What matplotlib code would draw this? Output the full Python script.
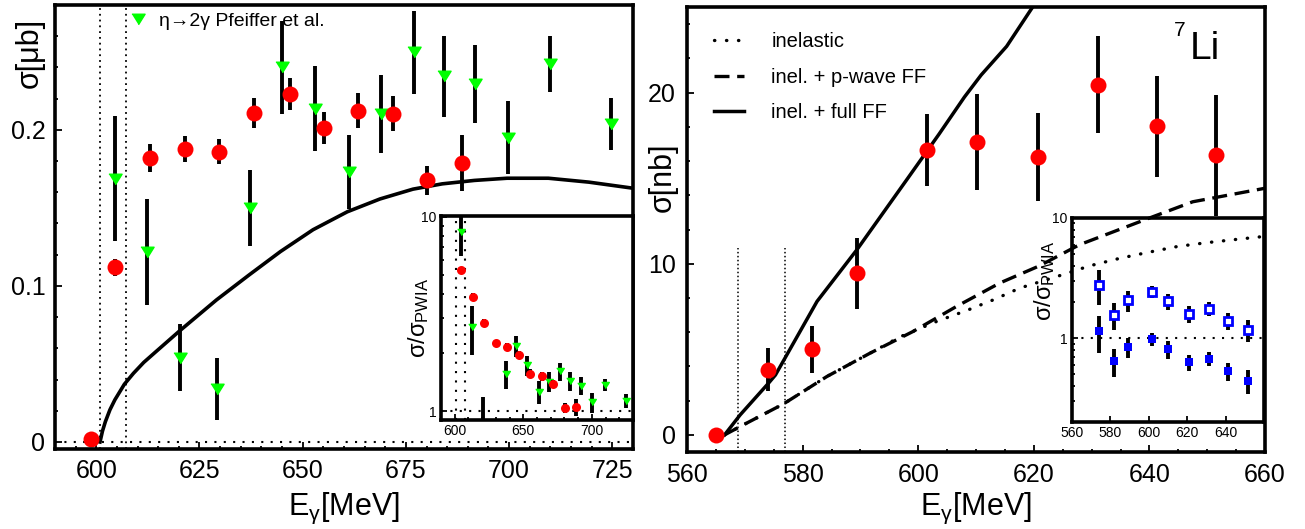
import numpy as np
import matplotlib
matplotlib.use("Agg")
import matplotlib.pyplot as plt
from matplotlib.lines import Line2D
from matplotlib.ticker import MultipleLocator, FixedLocator, NullFormatter, FixedFormatter

plt.rcParams['font.family'] = ['Liberation Sans', 'DejaVu Sans']
plt.rcParams['mathtext.fontset'] = 'custom'
plt.rcParams['mathtext.rm'] = 'Liberation Sans'
plt.rcParams['mathtext.it'] = 'Liberation Sans:italic'

# ---- left: eta production, this work vs Pfeiffer et al.
e_he = [598.8, 604.5, 613.1, 621.4, 629.8, 638.2, 646.9, 655.2, 663.5, 671.9, 680.1, 688.6]
s_he = [0.002, 0.112, 0.182, 0.1875, 0.186, 0.211, 0.223, 0.201, 0.2123, 0.2104, 0.1676, 0.1786]
err_he = [0.001, 0.0054, 0.0087, 0.0083, 0.008, 0.0095, 0.0105, 0.0103, 0.011, 0.011, 0.0095, 0.018]

e_pf = [604.5, 612.4, 620.3, 629.3, 637.2, 645.0, 652.9, 661.1, 669.0, 677.0, 684.2, 691.8, 699.8, 709.8, 724.7]
s_pf = [0.1686, 0.122, 0.054, 0.034, 0.150, 0.240, 0.2136, 0.173, 0.210, 0.2497, 0.2342, 0.2292, 0.195, 0.242, 0.2037]
err_pf = [0.040, 0.034, 0.0216, 0.020, 0.0245, 0.0297, 0.027, 0.0236, 0.025, 0.0266, 0.0257, 0.025, 0.0235, 0.018, 0.0168]

# PWIA curve
e_pwia = [600.9, 601.5, 602.2, 603.3, 604.5, 606.8, 609.0, 611.5, 614.5, 620.1, 629.1, 637.0, 644.6, 652.5,
          660.8, 668.7, 676.7, 683.8, 691.6, 699.5, 709.5, 719.3, 730.0]
s_pwia = [0.0, 0.007, 0.013, 0.0206, 0.027, 0.037, 0.044, 0.051, 0.058, 0.071, 0.091, 0.107, 0.122, 0.136,
          0.1475, 0.1557, 0.162, 0.1654, 0.1676, 0.169, 0.169, 0.1665, 0.1626]

thr_he = [600.8, 607.3]

# ratios to PWIA (inset)
r_he = [5.31, 3.88, 2.84, 2.23, 2.13, 1.95, 1.56, 1.51, 1.38, 1.036, 1.05]
r_he_err = [0.24, 0.19, 0.13, 0.10, 0.10, 0.09, 0.08, 0.08, 0.07, 0.06, 0.11]
r_pf = [8.37, 2.71, 0.85, 0.37, 1.557, 2.16, 1.72, 1.258, 1.42, 1.60, 1.43, 1.35, 1.113, 1.367, 1.13]
r_pf_err = [2.1, 0.77, 0.33, 0.22, 0.25, 0.27, 0.2, 0.17, 0.17, 0.17, 0.16, 0.145, 0.13, 0.1, 0.09]

# ---- right: 7Li
e_li = [565.1, 574.1, 581.7, 589.4, 601.6, 610.2, 620.7, 631.1, 641.4, 651.6]
s_li = [0.0, 3.81, 5.0, 9.43, 16.64, 17.1, 16.23, 20.47, 18.03, 16.33]
err_li = [0.0, 1.25, 1.37, 2.05, 2.1, 2.8, 2.55, 2.85, 2.95, 3.55]

e_full = [566.5, 569.2, 574.1, 575.3, 582.5, 589.4, 598.0, 603.6, 608.0, 610.9, 615.3, 620.0]
s_full = [0.0, 1.17, 3.02, 3.5, 7.8, 10.82, 14.9, 17.57, 19.74, 21.03, 22.7, 25.1]
e_pw = [566.5, 569.2, 576.7, 584.2, 591.7, 599.1, 606.6, 614.1, 621.0, 627.9, 640.0, 647.5, 660.0]
s_pw = [0.0, 0.49, 1.81, 3.41, 4.78, 6.04, 7.5, 8.87, 9.88, 11.11, 12.67, 13.62, 14.41]
e_inel = [566.5, 569.2, 576.7, 584.2, 591.7, 597.0, 603.2, 608.4, 613.0, 617.6, 625.0, 629.7,
          634.8, 639.7, 644.9, 649.9, 655.0, 660.0]
s_inel = [0.0, 0.49, 1.81, 3.41, 4.78, 5.75, 6.63, 7.27, 7.89, 8.58, 9.36, 9.88,
          10.31, 10.66, 11.01, 11.23, 11.42, 11.6]

thr_li = [568.9, 576.9]

r_open = [2.77, 1.565, 2.06, 2.42, 2.03, 1.595, 1.76, 1.386, 1.17]
r_open_err = [0.89, 0.40, 0.41, 0.27, 0.32, 0.25, 0.23, 0.22, 0.25]
r_full = [1.137, 0.643, 0.836, 0.98, 0.81, 0.627, 0.673, 0.531, 0.441]
r_full_err = [0.38, 0.17, 0.16, 0.12, 0.135, 0.10, 0.09, 0.088, 0.096]

RED = '#ff0000'
GREEN = '#00ff00'
BLUE = '#0000ff'
TRI = [(-1, 0.8), (1, 0.8), (0, -0.8)]


def frame(ax, lw=2.6, major=5, minor=2.5, size=18, pad=6):
    for sp in ax.spines.values():
        sp.set_linewidth(lw)
    ax.tick_params(which='both', direction='in', top=False, right=False,
                   labelsize=size, pad=pad, width=1.3)
    ax.tick_params(which='major', length=major)
    ax.tick_params(which='minor', length=minor)


def log_inset(ax):
    ax.set_yscale('log')
    ax.yaxis.set_major_locator(FixedLocator([1, 10]))
    ax.yaxis.set_major_formatter(FixedFormatter(['1', '10']))
    ax.yaxis.set_minor_locator(FixedLocator([0.2, 0.3, 0.4, 0.5, 0.6, 0.7, 0.8, 0.9,
                                             2, 3, 4, 5, 6, 7, 8, 9]))
    ax.yaxis.set_minor_formatter(NullFormatter())


fig = plt.figure(figsize=(13.05, 5.29), dpi=100)

# ================= left panel
ax1 = fig.add_axes([55 / 1305, 1 - 449 / 529, 578 / 1305, 444 / 529])
for x in thr_he:
    ax1.axvline(x, color='k', ls=(0, (1, 2.2)), lw=1.3)
ax1.axhline(0, color='k', ls=(0, (1, 3.5)), lw=1.5)
ax1.plot(e_pwia, s_pwia, color='k', lw=2.6)
ax1.errorbar(e_pf, s_pf, yerr=err_pf, fmt='none', ecolor='k', elinewidth=2.8, capsize=0)
ax1.plot(e_pf, s_pf, ls='none', marker=TRI, ms=9.5, mfc=GREEN, mec=GREEN)
ax1.errorbar(e_he, s_he, yerr=err_he, fmt='o', color=RED, ms=11.5, mew=0,
             ecolor='k', elinewidth=2.8, capsize=0)
ax1.set_xlim(590, 730)
ax1.set_ylim(-0.0045, 0.28)
ax1.xaxis.set_major_locator(MultipleLocator(25))
ax1.xaxis.set_minor_locator(MultipleLocator(5))
ax1.yaxis.set_major_locator(FixedLocator([0, 0.1, 0.2]))
ax1.yaxis.set_major_formatter(FixedFormatter(['0', '0.1', '0.2']))
ax1.yaxis.set_minor_locator(MultipleLocator(0.02))
frame(ax1, pad=7)

ax1.legend(handles=[Line2D([], [], ls='none', marker=TRI, ms=9.5, mfc=GREEN, mec=GREEN)],
           labels=['η→2γ Pfeiffer et al.'], loc='center left',
           bbox_to_anchor=(0.128, 0.9646), frameon=False, fontsize=14,
           handlelength=0.95, handletextpad=0.6, borderpad=0, borderaxespad=0)

fig.text(30 / 1305, 1 - 18 / 529, 'σ[μb]', rotation=90, ha='center', va='top', fontsize=22)
fig.text(344 / 1305, 1 - 515 / 529, r'E$_{\mathrm{γ}}$[MeV]', ha='center', va='baseline', fontsize=22)

# inset: ratio to PWIA
ax1i = fig.add_axes([441 / 1305, 1 - 420 / 529, 192 / 1305, 204 / 529])
ax1i.set_facecolor('white')
for x in thr_he:
    ax1i.axvline(x, color='k', ls=(0, (1, 3.5)), lw=1.5)
ax1i.axhline(1, color='k', ls=(0, (1, 3.5)), lw=1.5)
ax1i.errorbar(e_pf, r_pf, yerr=r_pf_err, fmt='none', ecolor='k', elinewidth=2.8, capsize=0)
ax1i.plot(e_pf, r_pf, ls='none', marker=TRI, ms=5.5, mfc=GREEN, mec=GREEN)
ax1i.errorbar(e_he[1:], r_he, yerr=r_he_err, fmt='o', color=RED, ms=6.5, mew=0,
              ecolor='k', elinewidth=2.8, capsize=0)
ax1i.set_xlim(590, 730)
log_inset(ax1i)
ax1i.set_ylim(0.9, 10.1)
ax1i.xaxis.set_major_locator(MultipleLocator(50))
ax1i.xaxis.set_minor_locator(MultipleLocator(10))
frame(ax1i, major=4, minor=2, size=10, pad=3)
fig.text(419 / 1305, 1 - 318 / 529, 'σ/σ$_{\mathrm{PWIA}}$', rotation=90,
         ha='center', va='center', fontsize=17)

# ================= right panel
ax2 = fig.add_axes([687 / 1305, 1 - 452 / 529, 578 / 1305, 445 / 529])
ax2.vlines(thr_li, -1, 10.9, color='k', ls=(0, (1, 1.6)), lw=1.1)
ax2.plot(e_inel, s_inel, color='k', ls=(0, (0.1, 3.5)), lw=2.4, dash_capstyle='round',
         label='inelastic')
ax2.plot(e_pw, s_pw, color='k', ls=(0, (4.5, 2.3)), lw=2.4, label='inel. + p-wave FF')
ax2.plot(e_full, s_full, color='k', lw=2.5, label='inel. + full FF')
ax2.errorbar(e_li, s_li, yerr=err_li, fmt='o', color=RED, ms=11.5, mew=0,
             ecolor='k', elinewidth=2.8, capsize=0)
ax2.set_xlim(560, 660)
ax2.set_ylim(-1, 25)
ax2.xaxis.set_major_locator(MultipleLocator(20))
ax2.xaxis.set_minor_locator(MultipleLocator(5))
ax2.yaxis.set_major_locator(MultipleLocator(10))
ax2.yaxis.set_minor_locator(MultipleLocator(2))
frame(ax2, pad=8)

h = ax2.get_legend_handles_labels()
ax2.legend(h[0][:3], h[1][:3], loc='upper left', bbox_to_anchor=(0.0467, 0.943),
           frameon=False, fontsize=14.5, handlelength=1.5, handletextpad=1.35,
           labelspacing=0.82, borderpad=0, borderaxespad=0)

ax2.text(0.870, 0.883, 'Li', transform=ax2.transAxes, fontsize=28, ha='left', va='baseline')
ax2.text(0.843, 0.935, '7', transform=ax2.transAxes, fontsize=15, ha='left', va='baseline')

fig.text(663 / 1305, 1 - 143 / 529, 'σ[nb]', rotation=90, ha='center', va='top', fontsize=22)
fig.text(976 / 1305, 1 - 515 / 529, r'E$_{\mathrm{γ}}$[MeV]', ha='center', va='baseline', fontsize=22)

# inset: ratio to PWIA for both form factor choices
ax2i = fig.add_axes([1072 / 1305, 1 - 422 / 529, 192 / 1305, 204 / 529])
ax2i.patch.set_alpha(0)
ax2i.axhline(1, color='k', ls=(0, (1, 3.5)), lw=1.5)
ax2i.errorbar(e_li[1:], r_open, yerr=r_open_err, fmt='s', mfc='white', mec=BLUE, ms=6, mew=2,
              ecolor='k', elinewidth=2.8, capsize=0)
ax2i.errorbar(e_li[1:], r_full, yerr=r_full_err, fmt='s', color=BLUE, ms=6.2, mew=0,
              ecolor='k', elinewidth=2.8, capsize=0)
ax2i.set_xlim(560, 660)
log_inset(ax2i)
ax2i.set_ylim(0.2, 10)
ax2i.xaxis.set_major_locator(FixedLocator([560, 580, 600, 620, 640]))
frame(ax2i, major=4, minor=2, size=10, pad=3)
fig.text(1045 / 1305, 1 - 281 / 529, 'σ/σ$_{\mathrm{PWIA}}$', rotation=90,
         ha='center', va='center', fontsize=17)

fig.savefig('out.png', dpi=100)
